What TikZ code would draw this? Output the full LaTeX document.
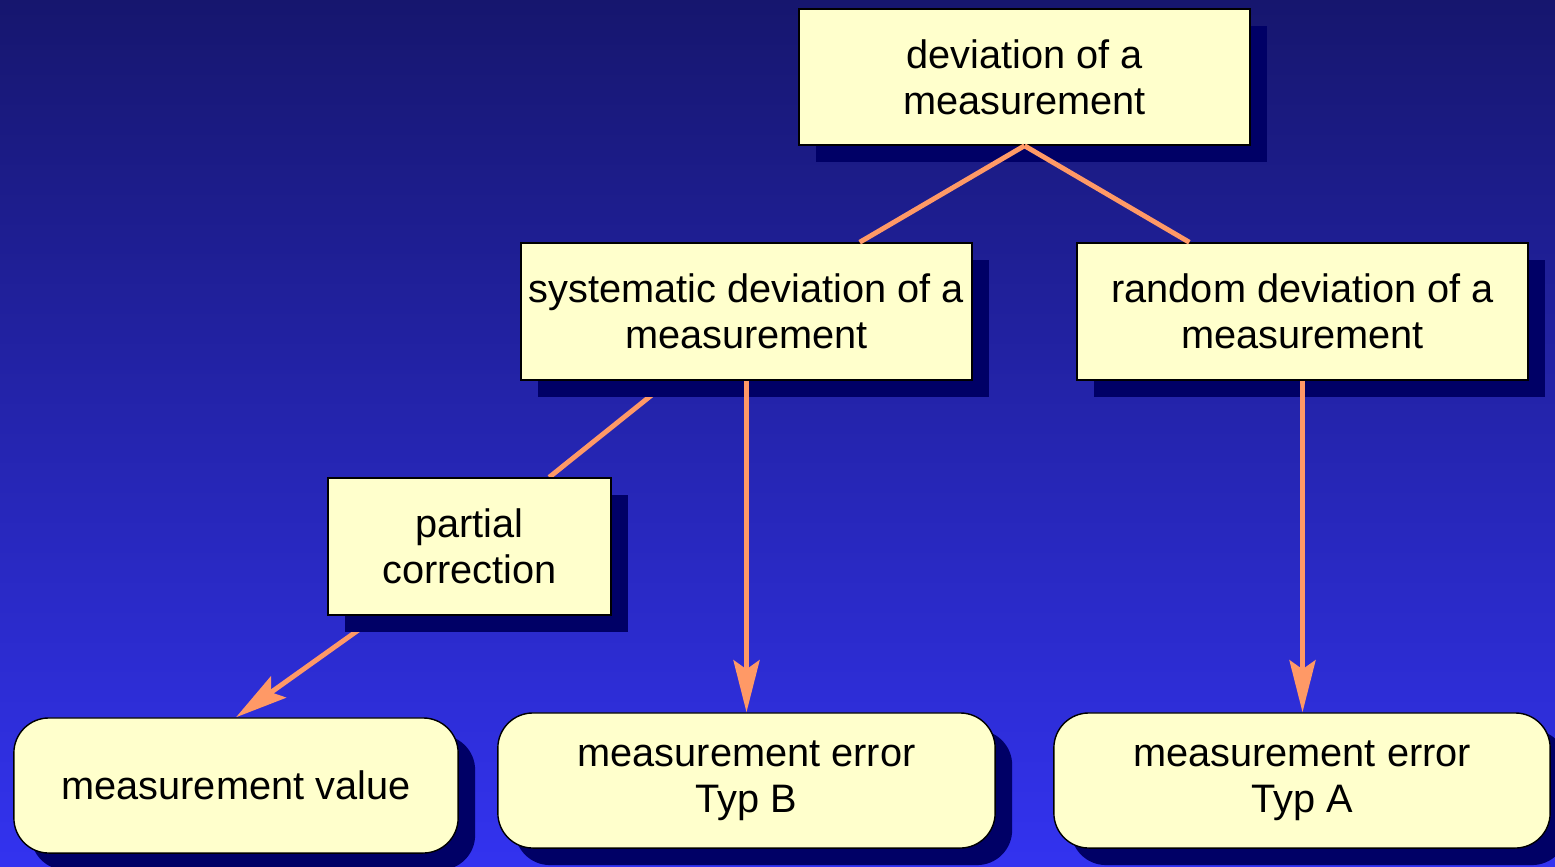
\documentclass[tikz,border=0pt]{standalone}
\usepackage{fontspec}
\setmainfont{Liberation Sans}
\usetikzlibrary{shadows,arrows.meta,calc}

\definecolor{skytop}{HTML}{16166E}
\definecolor{skybottom}{HTML}{3333F0}
\definecolor{boxfill}{HTML}{FFFFCC}
\definecolor{boxshadow}{HTML}{000066}
\definecolor{wirecolor}{HTML}{FF9966}

\pgfdeclarelayer{backdrop}
\pgfdeclarelayer{wires}
\pgfsetlayers{backdrop,wires,main}

\begin{document}
\begin{tikzpicture}[
  x = 0.01cm, y = -0.01cm,
  every node/.style = {draw = black, line width = 0.4pt, fill = boxfill, align = center,
                       inner sep = 0pt, font = \fontsize{11.3}{13.1}\selectfont},
  square/.style = {drop shadow = {shadow xshift = 0.17cm, shadow yshift = -0.17cm,
                                  fill = boxshadow, opacity = 1}},
  rounded/.style = {square, rounded corners = 0.35cm},
  wire/.style = {draw = wirecolor, line width = 1.4pt},
  arrow/.style = {wire, -{Stealth[length = 0.52cm, width = 0.26cm, inset = 0.09cm]}},
  ]
  \begin{pgfonlayer}{backdrop}
    \shade[top color = skytop, bottom color = skybottom] (0,0) rectangle (1555,866);
  \end{pgfonlayer}

  \node[square, minimum width = 4.51cm, minimum height = 1.36cm] (deviation) at (1024.5,77)
    {deviation of a\\measurement};
  \node[square, minimum width = 4.51cm, minimum height = 1.37cm] (systematic) at (746.5,311.5)
    {systematic deviation of a\\measurement};
  \node[square, minimum width = 4.51cm, minimum height = 1.37cm] (random) at (1302.5,311.5)
    {random deviation of a\\measurement};
  \node[square, minimum width = 2.83cm, minimum height = 1.37cm] (partial) at (469.5,546.5)
    {partial\\correction};
  \node[rounded, minimum width = 4.44cm, minimum height = 1.35cm] (value) at (236,785.5)
    {measurement value};
  \node[rounded, minimum width = 4.97cm, minimum height = 1.35cm] (typb) at (746.5,780.5)
    {measurement error\\Typ B};
  \node[rounded, minimum width = 4.96cm, minimum height = 1.35cm] (typa) at (1302,780.5)
    {measurement error\\Typ A};

  \draw[wire] (deviation.south) -- ($(systematic.north west)!0.75!(systematic.north east)$);
  \draw[wire] (deviation.south) -- ($(random.north west)!0.25!(random.north east)$);
  \draw[arrow] (systematic.south) -- (typb.north);
  \draw[arrow] (random.south) -- (random.south |- typa.north);

  % these two run under the shadows
  \begin{pgfonlayer}{wires}
    \draw[wire] ($(systematic.south west)!0.33!(systematic.south east)$)
      -- ($(partial.north west)!0.78!(partial.north east)$);
    \draw[arrow] ($(partial.south west)!0.18!(partial.south east)$) -- (value.north);
  \end{pgfonlayer}
\end{tikzpicture}
\end{document}
